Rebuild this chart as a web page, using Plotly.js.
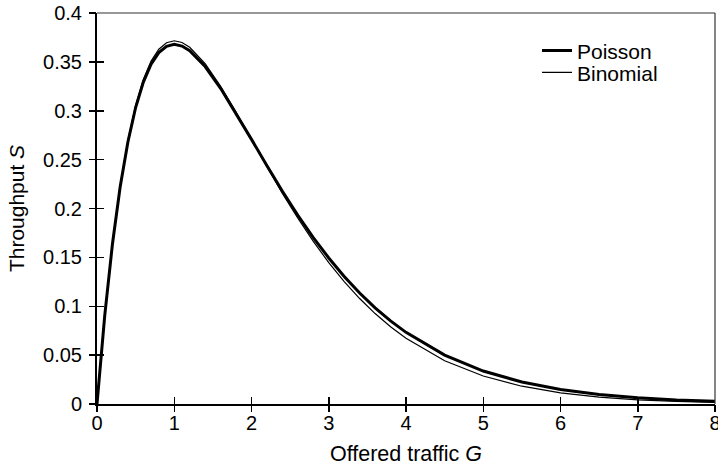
<!DOCTYPE html>
<html>
<head>
<meta charset="utf-8">
<script src="https://cdn.plot.ly/plotly-3.0.1.min.js"></script>
<style>html,body{margin:0;padding:0;background:#fff;}#chart{width:718px;height:471px;}</style>
</head>
<body>
<div id="chart"></div>
<script>
// Offered traffic G (x values)
const G = [0, 0.1, 0.2, 0.3, 0.4, 0.5, 0.6, 0.7, 0.8, 0.9, 1.0, 1.1, 1.2, 1.4, 1.6, 1.8, 2.0, 2.2, 2.4, 2.6, 2.8, 3.0, 3.2, 3.4, 3.6, 3.8, 4.0, 4.5, 5.0, 5.5, 6.0, 6.5, 7.0, 7.5, 8.0];
// Throughput S, Poisson model
const poisson = [0, 0.0905, 0.1637, 0.2222, 0.2681, 0.3033, 0.3293, 0.3476, 0.3595, 0.3659, 0.3679, 0.3662, 0.3614, 0.3452, 0.3230, 0.2975, 0.2707, 0.2438, 0.2177, 0.1931, 0.1703, 0.1494, 0.1304, 0.1135, 0.0984, 0.0850, 0.0733, 0.0500, 0.0337, 0.0225, 0.0149, 0.0098, 0.0064, 0.0041, 0.0027];
// Throughput S, Binomial model
const binomial = [0, 0.0907, 0.1643, 0.2234, 0.2698, 0.3056, 0.3321, 0.3508, 0.3630, 0.3696, 0.3716, 0.3698, 0.3649, 0.3481, 0.3251, 0.2987, 0.2706, 0.2426, 0.2155, 0.1900, 0.1663, 0.1447, 0.1252, 0.1079, 0.0925, 0.0790, 0.0672, 0.0443, 0.0286, 0.0182, 0.0114, 0.0071, 0.0043, 0.0026, 0.0016];
const seriesNames = ['Poisson', 'Binomial'];
const xTickVals = [0, 1, 2, 3, 4, 5, 6, 7, 8];
const yTickVals = [0, 0.05, 0.1, 0.15, 0.2, 0.25, 0.3, 0.35, 0.4];
const yTickText = ['0', '0.05', '0.1', '0.15', '0.2', '0.25', '0.3', '0.35', '0.4'];

const FONT = 'Liberation Sans, Arial, sans-serif';

const traces = [
  {x: G, y: poisson, name: seriesNames[0], mode: 'lines', line: {color: '#000', width: 3}, legend: 'legend'},
  {x: G, y: binomial, name: seriesNames[1], mode: 'lines', line: {color: '#000', width: 1.2}, legend: 'legend2'},
  // empty helper so the overlay axes (outer tick halves) are drawn
  {x: [], y: [], xaxis: 'x2', yaxis: 'y2', mode: 'lines', showlegend: false, hoverinfo: 'skip'}
];

const legendCommon = {xanchor: 'left', yanchor: 'middle', bgcolor: 'rgba(0,0,0,0)', font: {size: 21, family: FONT}};

const layout = {
  width: 718, height: 471,
  margin: {l: 97, r: 3, t: 13, b: 67},
  paper_bgcolor: '#fff', plot_bgcolor: '#fff',
  font: {family: FONT, color: '#000', size: 20},
  showlegend: true,
  legend: Object.assign({x: 0.712, y: 0.903}, legendCommon),
  legend2: Object.assign({x: 0.712, y: 0.847}, legendCommon),
  xaxis: {
    range: [0, 8], tickvals: xTickVals, ticks: 'inside', ticklen: 7, tickwidth: 1.5, tickcolor: '#000',
    showline: true, linewidth: 2, linecolor: '#000', showgrid: false, zeroline: false,
    tickfont: {size: 20, family: FONT}, ticklabelstandoff: 0, ticklabeloverflow: 'allow',
    title: {text: 'Offered traffic <i>G</i>', font: {size: 21.5, family: FONT}, standoff: 13}
  },
  yaxis: {
    range: [0, 0.4], tickvals: yTickVals, ticktext: yTickText, ticks: 'inside', ticklen: 7, tickwidth: 1.5, tickcolor: '#000',
    showline: true, linewidth: 2, linecolor: '#000', showgrid: false, zeroline: false,
    tickfont: {size: 20, family: FONT}, ticklabelstandoff: 9, ticklabeloverflow: 'allow',
    title: {text: 'Throughput <i>S</i>', font: {size: 21, family: FONT}, standoff: 13}
  },
  xaxis2: {
    overlaying: 'x', anchor: 'y2', side: 'bottom', range: [0, 8], tickvals: xTickVals,
    ticks: 'outside', ticklen: 7, tickwidth: 1.5, tickcolor: '#000', showticklabels: false,
    showline: false, showgrid: false, zeroline: false
  },
  yaxis2: {
    overlaying: 'y', anchor: 'x2', side: 'left', range: [0, 0.4], tickvals: yTickVals,
    ticks: 'outside', ticklen: 7, tickwidth: 1.5, tickcolor: '#000', showticklabels: false,
    showline: false, showgrid: false, zeroline: false
  },
  shapes: [
    {type: 'line', xref: 'paper', yref: 'paper', x0: 0, x1: 1, y0: 1, y1: 1, line: {color: '#333', width: 1.2}},
    {type: 'line', xref: 'paper', yref: 'paper', x0: 1, x1: 1, y0: 0, y1: 1, line: {color: '#333', width: 1.2}}
  ]
};

Plotly.newPlot('chart', traces, layout, {staticPlot: true, displayModeBar: false});
</script>
</body>
</html>
